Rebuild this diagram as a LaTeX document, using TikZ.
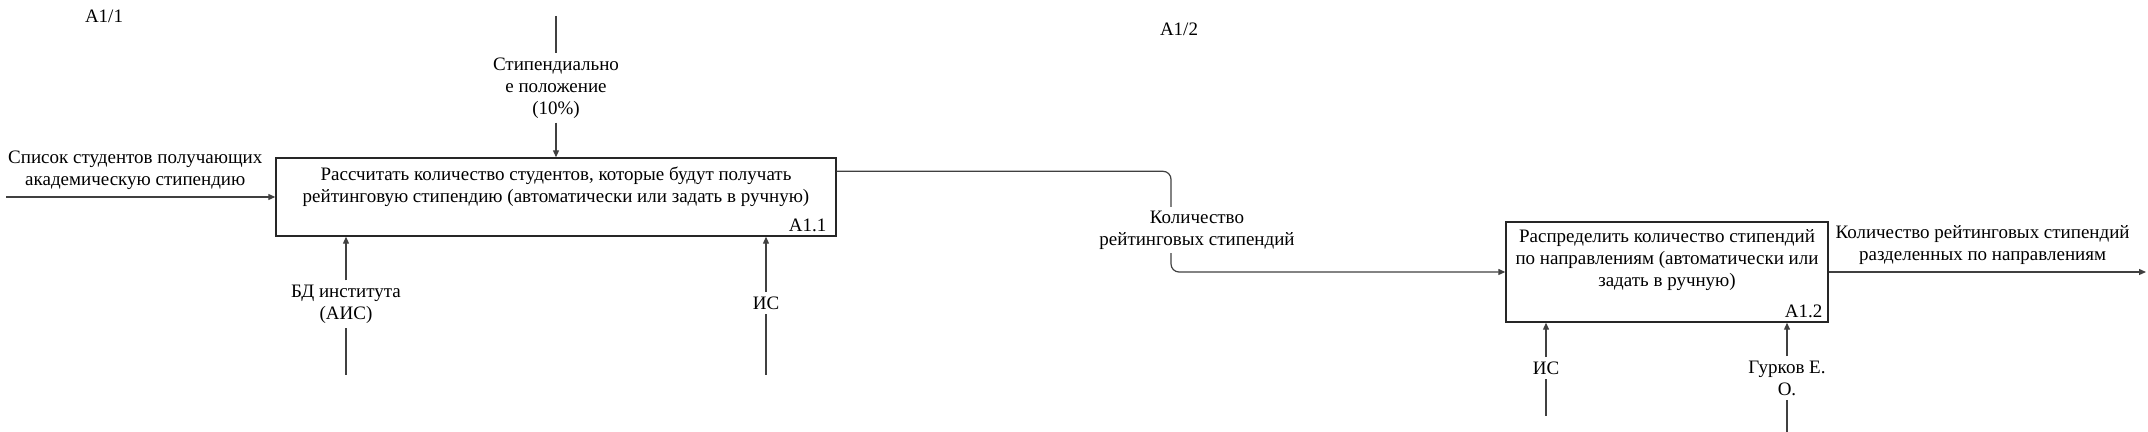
\documentclass[tikz,border=0pt]{standalone}
\usepackage{fontspec}
\setmainfont{Liberation Serif}
\usetikzlibrary{arrows.meta,positioning}

\tikzset{
  func/.style={draw=black!85, line width=0.7pt, rectangle, inner sep=0pt},
  lbl/.style={align=center, inner sep=2pt, font=\fontsize{9.5}{11}\selectfont},
  lblw/.style={lbl, fill=white},
  num/.style={anchor=south east, inner sep=2pt, font=\fontsize{9.5}{11}\selectfont},
  wire/.style={draw=black!75, line width=0.6pt},
  flow/.style={wire, -{Triangle[length=3.5pt,width=3pt]}}
}

\begin{document}
\begin{tikzpicture}[x=0.5pt, y=-0.5pt]
        \useasboundingbox (0,0) rectangle (2148,432);

        % Nodes
        \node[lbl] (page1) at (104,16) {A1/1};
        \node[lbl] (page2) at (1179,29) {A1/2};

        \node[func, minimum width=280pt, minimum height=39pt] (calc) at (556,197) {};
        \node[lbl] (calctext) at (556,187) {Рассчитать количество студентов, которые будут получать\\рейтинговую стипендию (автоматически или задать в ручную)};
        \node[num] (calcnum) at ([xshift=-3pt,yshift=0.5pt]calc.south east) {A1.1};

        \node[func, minimum width=161pt, minimum height=50pt] (split) at (1667,272) {};
        \node[lbl] (splittext) at (1667,260) {Распределить количество стипендий\\по направлениям (автоматически или\\задать в ручную)};
        \node[num] (splitnum) at ([xshift=-1pt,yshift=0.5pt]split.south east) {A1.2};

        \node[lbl] (rulelbl) at (556,88) {Стипендиально\\е положение\\(10\%)};
        \node[lbl] (dblbl) at (346,304) {БД института\\(АИС)};
        \node[lbl] (is1lbl) at (766,303) {ИС};
        \node[lbl] (is2lbl) at (1546,368) {ИС};
        \node[lbl] (gurlbl) at (1787,378) {Гурков Е.\\О.};

        \coordinate (rulein) at (556,16);
        \coordinate (listin) at (6,197);
        \coordinate (dbin) at (346,375);
        \coordinate (is1in) at (766,375);
        \coordinate (is2in) at (1546,416);
        \coordinate (gurin) at (1787,432);
        \coordinate (resout) at (2146,272);
        \coordinate (qtyout) at ([yshift=-7pt]calc.north east);

        % Arrows
        \draw[wire] (rulein) -- (rulelbl);
        \draw[flow] (rulelbl) -- (calc.north);
        \draw[flow] (listin) -- (calc.west) node[lbl, pos=0.48, above=1.5pt] {Список студентов получающих\\академическую стипендию};
        \draw[wire] (dbin) -- (dblbl);
        \draw[flow] (dblbl) -- (dblbl |- calc.south);
        \draw[wire] (is1in) -- (is1lbl);
        \draw[flow] (is1lbl) -- (is1lbl |- calc.south);
        \draw[flow, rounded corners=4pt] (qtyout) -| (1171,230) |- (split.west);
        \node[lblw] (qtylbl) at (1197,230) {Количество\\рейтинговых стипендий};
        \draw[wire] (is2in) -- (is2lbl);
        \draw[flow] (is2lbl) -- (is2lbl |- split.south);
        \draw[wire] (gurin) -- (gurlbl);
        \draw[flow] (gurlbl) -- (gurlbl |- split.south);
        \draw[flow] (split.east) -- (resout) node[lbl, pos=0.485, above=1.5pt] {Количество рейтинговых стипендий\\разделенных по направлениям};
    \end{tikzpicture}
\end{document}
